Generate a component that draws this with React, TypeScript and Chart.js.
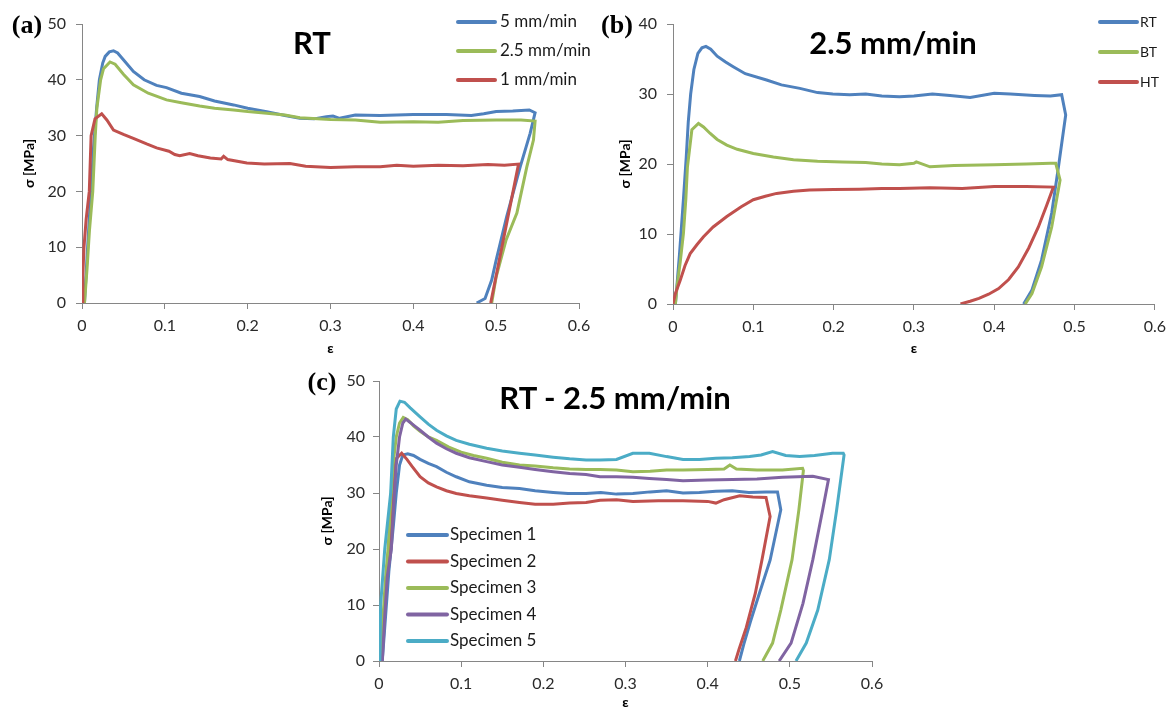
import React, { useEffect, useRef } from "react";
import { Chart, registerables } from "chart.js";

Chart.register(...registerables);

type Pt = [number, number];

// ---------- tick values ----------
const xTickValues = [0, 0.1, 0.2, 0.3, 0.4, 0.5, 0.6];
const yTicksA = [0, 10, 20, 30, 40, 50];
const yTicksB = [0, 10, 20, 30, 40];
const yTicksC = [0, 10, 20, 30, 40, 50];

// ---------- (a) RT, three crosshead speeds ----------
const aLabels = ["5 mm/min", "2.5 mm/min", "1 mm/min"];
const a5mm: Pt[] = [
  [0.003, 0], [0.006, 8], [0.01, 18], [0.014, 28], [0.0177, 35], [0.021, 40], [0.025, 43],
  [0.028, 44.2], [0.033, 45.0], [0.038, 45.2], [0.043, 44.8], [0.05, 43.6], [0.062, 41.5],
  [0.075, 40.0], [0.09, 39.0], [0.102, 38.6], [0.12, 37.6], [0.142, 37.0], [0.16, 36.2],
  [0.183, 35.5], [0.2, 34.9], [0.223, 34.3], [0.245, 33.6], [0.263, 33.1], [0.28, 33.0],
  [0.295, 33.4], [0.303, 33.5], [0.311, 33.1], [0.33, 33.7], [0.36, 33.6], [0.4, 33.8],
  [0.44, 33.8], [0.47, 33.6], [0.485, 33.9], [0.5, 34.3], [0.52, 34.4], [0.54, 34.6],
  [0.547, 34.1], [0.541, 30.4], [0.529, 24.4], [0.5127, 15.5], [0.5, 7.7], [0.4946, 4.1],
  [0.4866, 0.8], [0.4765, 0],
];
const a25mm: Pt[] = [
  [0.003, 0], [0.006, 6], [0.009, 13], [0.013, 20], [0.016, 30], [0.018, 35], [0.0225, 40],
  [0.026, 42], [0.0338, 43.2], [0.04, 42.8], [0.05, 41.0], [0.062, 39.1], [0.08, 37.6],
  [0.102, 36.4], [0.12, 35.9], [0.142, 35.3], [0.16, 34.9], [0.183, 34.6], [0.2, 34.3],
  [0.223, 34.0], [0.245, 33.7], [0.263, 33.2], [0.3, 32.9], [0.33, 32.8], [0.36, 32.4],
  [0.4, 32.5], [0.43, 32.4], [0.46, 32.7], [0.5, 32.8], [0.53, 32.8], [0.547, 32.6],
  [0.545, 29.2], [0.537, 24.4], [0.525, 16.1], [0.512, 11.3], [0.5, 4.7], [0.4946, 0],
];
const a1mm: Pt[] = [
  [0, 0], [0.001, 5], [0.0024, 10], [0.005, 15], [0.0088, 20], [0.011, 30], [0.0157, 33],
  [0.0238, 33.9], [0.03, 32.8], [0.038, 31.0], [0.05, 30.2], [0.062, 29.5], [0.078, 28.5],
  [0.09, 27.8], [0.105, 27.2], [0.112, 26.6], [0.118, 26.4], [0.13, 26.8], [0.14, 26.4],
  [0.155, 26.0], [0.168, 25.8], [0.171, 26.3], [0.176, 25.7], [0.199, 25.1], [0.22, 24.9],
  [0.251, 25.0], [0.27, 24.5], [0.3, 24.3], [0.33, 24.4], [0.36, 24.4], [0.38, 24.7],
  [0.4, 24.5], [0.43, 24.7], [0.46, 24.6], [0.49, 24.8], [0.51, 24.7], [0.527, 24.9],
  [0.4934, 0],
];

// ---------- (b) 2.5 mm/min, three temperatures ----------
const bLabels = ["RT", "BT", "HT"];
const bRT: Pt[] = [
  [0.003, 0], [0.008, 7], [0.013, 15], [0.0165, 21], [0.019, 26], [0.022, 30], [0.026, 33.5],
  [0.031, 35.8], [0.036, 36.6], [0.041, 36.8], [0.047, 36.4], [0.055, 35.4], [0.065, 34.6],
  [0.075, 33.9], [0.09, 32.9], [0.1165, 32.0], [0.135, 31.3], [0.158, 30.8], [0.18, 30.2],
  [0.199, 30.0], [0.22, 29.9], [0.24, 30.0], [0.26, 29.7], [0.282, 29.6], [0.3, 29.7],
  [0.323, 30.0], [0.345, 29.8], [0.37, 29.5], [0.4, 30.1], [0.42, 30.0], [0.45, 29.8],
  [0.47, 29.7], [0.484, 29.9], [0.489, 27.0], [0.48, 19.6], [0.4716, 13.0], [0.459, 6.3],
  [0.447, 2.0], [0.4366, 0],
];
const bBT: Pt[] = [
  [0.003, 0], [0.005, 2.5], [0.009, 6], [0.013, 10.1], [0.016, 15], [0.018, 19.6],
  [0.0235, 24.9], [0.0317, 25.8], [0.038, 25.3], [0.046, 24.4], [0.055, 23.5], [0.067, 22.7],
  [0.08, 22.1], [0.1, 21.5], [0.125, 21.0], [0.15, 20.6], [0.18, 20.4], [0.211, 20.3],
  [0.24, 20.2], [0.26, 20.0], [0.282, 19.9], [0.3, 20.1], [0.303, 20.3], [0.32, 19.6],
  [0.35, 19.8], [0.4, 19.9], [0.44, 20.0], [0.47, 20.1], [0.4766, 20.1], [0.482, 17.7],
  [0.4716, 11.0], [0.459, 5.3], [0.447, 1.5], [0.4386, 0],
];
const bHT: Pt[] = [
  [0, 0], [0.003, 1.5], [0.009, 3.4], [0.015, 5.5], [0.0214, 7.2], [0.03, 8.5], [0.038, 9.6],
  [0.05, 11.0], [0.067, 12.5], [0.085, 13.9], [0.1, 14.9], [0.115, 15.4], [0.129, 15.8],
  [0.15, 16.1], [0.17, 16.3], [0.2, 16.35], [0.232, 16.4], [0.26, 16.5], [0.282, 16.5],
  [0.32, 16.6], [0.36, 16.5], [0.4, 16.8], [0.44, 16.8], [0.4737, 16.7], [0.465, 14.0],
  [0.455, 11.0], [0.443, 8.0], [0.43, 5.3], [0.418, 3.5], [0.4055, 2.2], [0.393, 1.4],
  [0.381, 0.8], [0.37, 0.4], [0.358, 0],
];

// ---------- (c) RT - 2.5 mm/min, five specimens ----------
const cLabels = ["Specimen 1", "Specimen 2", "Specimen 3", "Specimen 4", "Specimen 5"];
const cSpec1: Pt[] = [
  [0.004, 0], [0.008, 8], [0.012, 16], [0.0174, 24], [0.021, 30], [0.025, 35], [0.029, 36.8],
  [0.035, 37.0], [0.042, 36.7], [0.05, 36.0], [0.06, 35.3], [0.07, 34.7], [0.082, 33.7],
  [0.094, 32.9], [0.11, 32.0], [0.131, 31.4], [0.15, 31.0], [0.171, 30.8], [0.19, 30.4],
  [0.212, 30.1], [0.23, 29.9], [0.252, 29.9], [0.27, 30.1], [0.289, 29.8], [0.309, 29.9],
  [0.33, 30.2], [0.35, 30.4], [0.37, 30.0], [0.39, 30.1], [0.41, 30.3], [0.43, 30.4],
  [0.45, 30.1], [0.471, 30.2], [0.485, 30.2], [0.489, 27.0], [0.476, 18.0], [0.463, 12.1],
  [0.452, 7.0], [0.444, 3.0], [0.4386, 0],
];
const cSpec2: Pt[] = [
  [0.003, 0], [0.006, 8], [0.009, 15], [0.013, 22], [0.016, 30], [0.0194, 35.9], [0.0276, 37.1],
  [0.034, 36.0], [0.04, 34.8], [0.05, 32.9], [0.06, 31.8], [0.07, 31.1], [0.082, 30.4],
  [0.094, 29.9], [0.11, 29.5], [0.131, 29.1], [0.15, 28.7], [0.171, 28.3], [0.19, 28.0],
  [0.212, 28.0], [0.232, 28.2], [0.252, 28.3], [0.269, 28.7], [0.289, 28.8], [0.309, 28.5],
  [0.34, 28.6], [0.37, 28.6], [0.4, 28.5], [0.41, 28.2], [0.42, 28.8], [0.439, 29.5],
  [0.455, 29.3], [0.471, 29.2], [0.476, 25.8], [0.466, 18.0], [0.458, 12.1], [0.447, 6.0],
  [0.438, 2.0], [0.4338, 0],
];
const cSpec3: Pt[] = [
  [0.002, 0], [0.005, 8], [0.008, 15], [0.011, 20], [0.014, 28], [0.017, 35], [0.021, 40],
  [0.025, 42.5], [0.0295, 43.5], [0.035, 43.1], [0.042, 42.0], [0.05, 41.0], [0.06, 40.0],
  [0.07, 39.4], [0.085, 38.2], [0.1, 37.3], [0.115, 36.7], [0.131, 36.2], [0.15, 35.5],
  [0.171, 35.0], [0.19, 34.8], [0.212, 34.5], [0.232, 34.3], [0.252, 34.2], [0.269, 34.2],
  [0.289, 34.1], [0.309, 33.8], [0.33, 33.9], [0.35, 34.1], [0.37, 34.1], [0.4, 34.2],
  [0.42, 34.3], [0.427, 35.0], [0.435, 34.3], [0.46, 34.1], [0.491, 34.1], [0.5155, 34.4],
  [0.5165, 34.0], [0.511, 27.0], [0.5027, 18.1], [0.489, 9.1], [0.479, 3.2], [0.467, 0],
];
const cSpec4: Pt[] = [
  [0.004, 0], [0.007, 8], [0.01, 15], [0.015, 20], [0.018, 28], [0.021, 35], [0.025, 40],
  [0.029, 42.5], [0.0325, 43.2], [0.038, 42.6], [0.044, 41.9], [0.05, 41.2], [0.06, 40.0],
  [0.07, 38.9], [0.082, 37.9], [0.094, 37.1], [0.11, 36.3], [0.131, 35.6], [0.15, 35.0],
  [0.171, 34.6], [0.19, 34.2], [0.212, 33.8], [0.232, 33.5], [0.252, 33.3], [0.269, 32.9],
  [0.289, 32.9], [0.309, 32.8], [0.329, 32.6], [0.35, 32.4], [0.37, 32.2], [0.4, 32.3],
  [0.43, 32.4], [0.46, 32.5], [0.491, 32.8], [0.528, 33.0], [0.547, 32.4], [0.54, 27.0],
  [0.528, 18.1], [0.516, 10.3], [0.5015, 3.2], [0.487, 0],
];
const cSpec5: Pt[] = [
  [0.001, 0], [0.002, 10], [0.007, 20], [0.0142, 30], [0.0174, 40], [0.021, 45], [0.0255, 46.4],
  [0.031, 46.2], [0.038, 45.2], [0.05, 43.6], [0.06, 42.3], [0.07, 41.2], [0.082, 40.2],
  [0.094, 39.4], [0.11, 38.7], [0.131, 38.0], [0.15, 37.5], [0.171, 37.1], [0.19, 36.8],
  [0.212, 36.4], [0.232, 36.1], [0.252, 35.9], [0.269, 35.9], [0.289, 36.0], [0.309, 37.1],
  [0.329, 37.1], [0.35, 36.5], [0.37, 36.0], [0.39, 36.0], [0.41, 36.2], [0.43, 36.3],
  [0.451, 36.5], [0.465, 36.8], [0.479, 37.4], [0.495, 36.7], [0.512, 36.5], [0.53, 36.7],
  [0.552, 37.1], [0.565, 37.1], [0.566, 36.8], [0.557, 27.0], [0.548, 18.1], [0.534, 9.1],
  [0.52, 3.2], [0.5075, 0],
];

const BLUE = "#4F81BD";
const RED = "#C0504D";
const GREEN = "#9BBB59";
const PURPLE = "#8064A2";
const CYAN = "#4BACC6";
const AXIS = "#868686";
const TICK_TEXT = "#2a2a2a";

type Series = { label: string; points: Pt[]; color: string };

const inlineLegendPlugin = {
  id: "inlineLegend",
  afterDraw(chart: any, _args: any, opts: any) {
    if (!opts || opts.x === undefined) return;
    const ctx = chart.ctx as CanvasRenderingContext2D;
    ctx.save();
    chart.data.datasets.forEach((ds: any, i: number) => {
      const y = opts.y + i * opts.spacing;
      ctx.strokeStyle = ds.borderColor;
      ctx.lineWidth = opts.lineWidth;
      ctx.lineCap = "round";
      ctx.beginPath();
      ctx.moveTo(opts.x, y);
      ctx.lineTo(opts.x + opts.length, y);
      ctx.stroke();
      ctx.fillStyle = opts.color;
      ctx.font = opts.font;
      ctx.textBaseline = "middle";
      ctx.textAlign = "left";
      ctx.fillText(ds.label, opts.x + opts.length + opts.gap, y);
    });
    ctx.restore();
  },
};

type PanelProps = {
  left: number;
  top: number;
  width: number;
  height: number;
  series: Series[];
  yTicks: number[];
  yMax: number;
  yWidth: number;
  padTop: number;
  padRight: number;
  xHeight: number;
  yTitlePad: number;
  xTitlePad: number;
  yTickPad: number;
  tickFontSize: number;
  legend: any;
};

function StressChart(p: PanelProps) {
  const ref = useRef<HTMLCanvasElement>(null);
  useEffect(() => {
    const n = p.series.length;
    const gridOpts = {
      display: true,
      drawOnChartArea: false,
      drawTicks: true,
      tickLength: 6,
      color: AXIS,
      lineWidth: 1,
    };
    const chart = new Chart(ref.current as HTMLCanvasElement, {
      type: "scatter",
      data: {
        datasets: p.series.map((s, i) => ({
          label: s.label,
          data: s.points.map(([x, y]) => ({ x, y })),
          borderColor: s.color,
          backgroundColor: s.color,
          showLine: true,
          pointRadius: 0,
          pointHoverRadius: 0,
          borderWidth: 3,
          tension: 0,
          order: n - i,
        })),
      },
      options: {
        responsive: false,
        animation: false,
        events: [],
        layout: { padding: { top: p.padTop, right: p.padRight, left: 0, bottom: 0 } },
        plugins: {
          legend: { display: false },
          tooltip: { enabled: false },
          title: { display: false },
          inlineLegend: p.legend,
        } as any,
        scales: {
          x: {
            type: "linear",
            min: 0,
            max: 0.6,
            afterBuildTicks: (s: any) => {
              s.ticks = xTickValues.map((v) => ({ value: v }));
            },
            afterFit: (s: any) => {
              s.height = p.xHeight;
            },
            grid: gridOpts,
            border: { display: true, color: AXIS, width: 1 },
            ticks: {
              color: TICK_TEXT,
              font: { family: "Lato", size: p.tickFontSize },
              padding: 7,
              maxRotation: 0,
              callback: (v: any) => String(v),
            },
            title: {
              display: true,
              text: "ε",
              color: "#000",
              font: { family: "Lato", size: 14, weight: "bold", lineHeight: 1.2 },
              padding: { top: 0, bottom: p.xTitlePad },
            },
          },
          y: {
            type: "linear",
            min: 0,
            max: p.yMax,
            afterBuildTicks: (s: any) => {
              s.ticks = p.yTicks.map((v) => ({ value: v }));
            },
            afterFit: (s: any) => {
              s.width = p.yWidth;
            },
            grid: gridOpts,
            border: { display: true, color: AXIS, width: 1 },
            ticks: {
              color: TICK_TEXT,
              font: { family: "Lato", size: p.tickFontSize },
              padding: p.yTickPad,
              callback: (v: any) => String(v),
            },
            title: {
              display: true,
              text: "σ [MPa]",
              color: "#000",
              font: { family: "Lato", size: 14, weight: "bold", lineHeight: 1.2 },
              padding: { top: p.yTitlePad, bottom: 0 },
            },
          },
        },
      } as any,
      plugins: [inlineLegendPlugin as any],
    });
    return () => chart.destroy();
  }, []);
  return (
    <canvas
      ref={ref}
      width={p.width}
      height={p.height}
      style={{ position: "absolute", left: p.left, top: p.top, width: p.width, height: p.height }}
    />
  );
}

function Label(props: { x: number; y: number; text: string; font: string }) {
  return (
    <div
      style={{
        position: "absolute",
        left: props.x,
        top: props.y,
        transform: "translate(-50%, -50%)",
        font: props.font,
        whiteSpace: "nowrap",
        lineHeight: 1,
        color: "#000",
      }}
    >
      {props.text}
    </div>
  );
}

export default function App() {
  const seriesA: Series[] = [
    { label: aLabels[0], points: a5mm, color: BLUE },
    { label: aLabels[1], points: a25mm, color: GREEN },
    { label: aLabels[2], points: a1mm, color: RED },
  ];
  const seriesB: Series[] = [
    { label: bLabels[0], points: bRT, color: BLUE },
    { label: bLabels[1], points: bBT, color: GREEN },
    { label: bLabels[2], points: bHT, color: RED },
  ];
  const seriesC: Series[] = [
    { label: cLabels[0], points: cSpec1, color: BLUE },
    { label: cLabels[1], points: cSpec2, color: RED },
    { label: cLabels[2], points: cSpec3, color: GREEN },
    { label: cLabels[3], points: cSpec4, color: PURPLE },
    { label: cLabels[4], points: cSpec5, color: CYAN },
  ];
  const titleFont = "bold 31px Lato";
  const panelFont = "bold 26px 'Liberation Serif'";
  return (
    <div
      style={{
        position: "absolute",
        left: 0,
        top: 0,
        width: 1173,
        height: 711,
        overflow: "hidden",
        background: "#fff",
      }}
    >
      <StressChart
        left={0}
        top={0}
        width={600}
        height={360}
        series={seriesA}
        yTicks={yTicksA}
        yMax={50}
        yWidth={82}
        padTop={24}
        padRight={21}
        xHeight={57}
        yTitlePad={21}
        xTitlePad={3}
        yTickPad={10}
        tickFontSize={16}
        legend={{ x: 458, y: 22, spacing: 29, length: 37, gap: 5, lineWidth: 4, font: "17px Lato", color: "#1a1a1a" }}
      />
      <StressChart
        left={600}
        top={0}
        width={573}
        height={360}
        series={seriesB}
        yTicks={yTicksB}
        yMax={40}
        yWidth={73}
        padTop={24}
        padRight={16}
        xHeight={56}
        yTitlePad={17}
        xTitlePad={3}
        yTickPad={10}
        tickFontSize={16}
        legend={{ x: 500, y: 22, spacing: 30, length: 37, gap: 3, lineWidth: 4, font: "14px Lato", color: "#1a1a1a" }}
      />
      <StressChart
        left={300}
        top={360}
        width={600}
        height={351}
        series={seriesC}
        yTicks={yTicksC}
        yMax={50}
        yWidth={79}
        padTop={21}
        padRight={28}
        xHeight={50}
        yTitlePad={19}
        xTitlePad={0}
        yTickPad={8}
        tickFontSize={16}
        legend={{ x: 108, y: 175, spacing: 26.5, length: 39, gap: 3, lineWidth: 4, font: "17px Lato", color: "#1a1a1a" }}
      />
      <Label x={312} y={42} text="RT" font={titleFont} />
      <Label x={893} y={42} text="2.5 mm/min" font={titleFont} />
      <Label x={615} y={397} text="RT - 2.5 mm/min" font={titleFont} />
      <Label x={27} y={25} text="(a)" font={panelFont} />
      <Label x={617} y={25} text="(b)" font={panelFont} />
      <Label x={322} y={382} text="(c)" font={panelFont} />
    </div>
  );
}
